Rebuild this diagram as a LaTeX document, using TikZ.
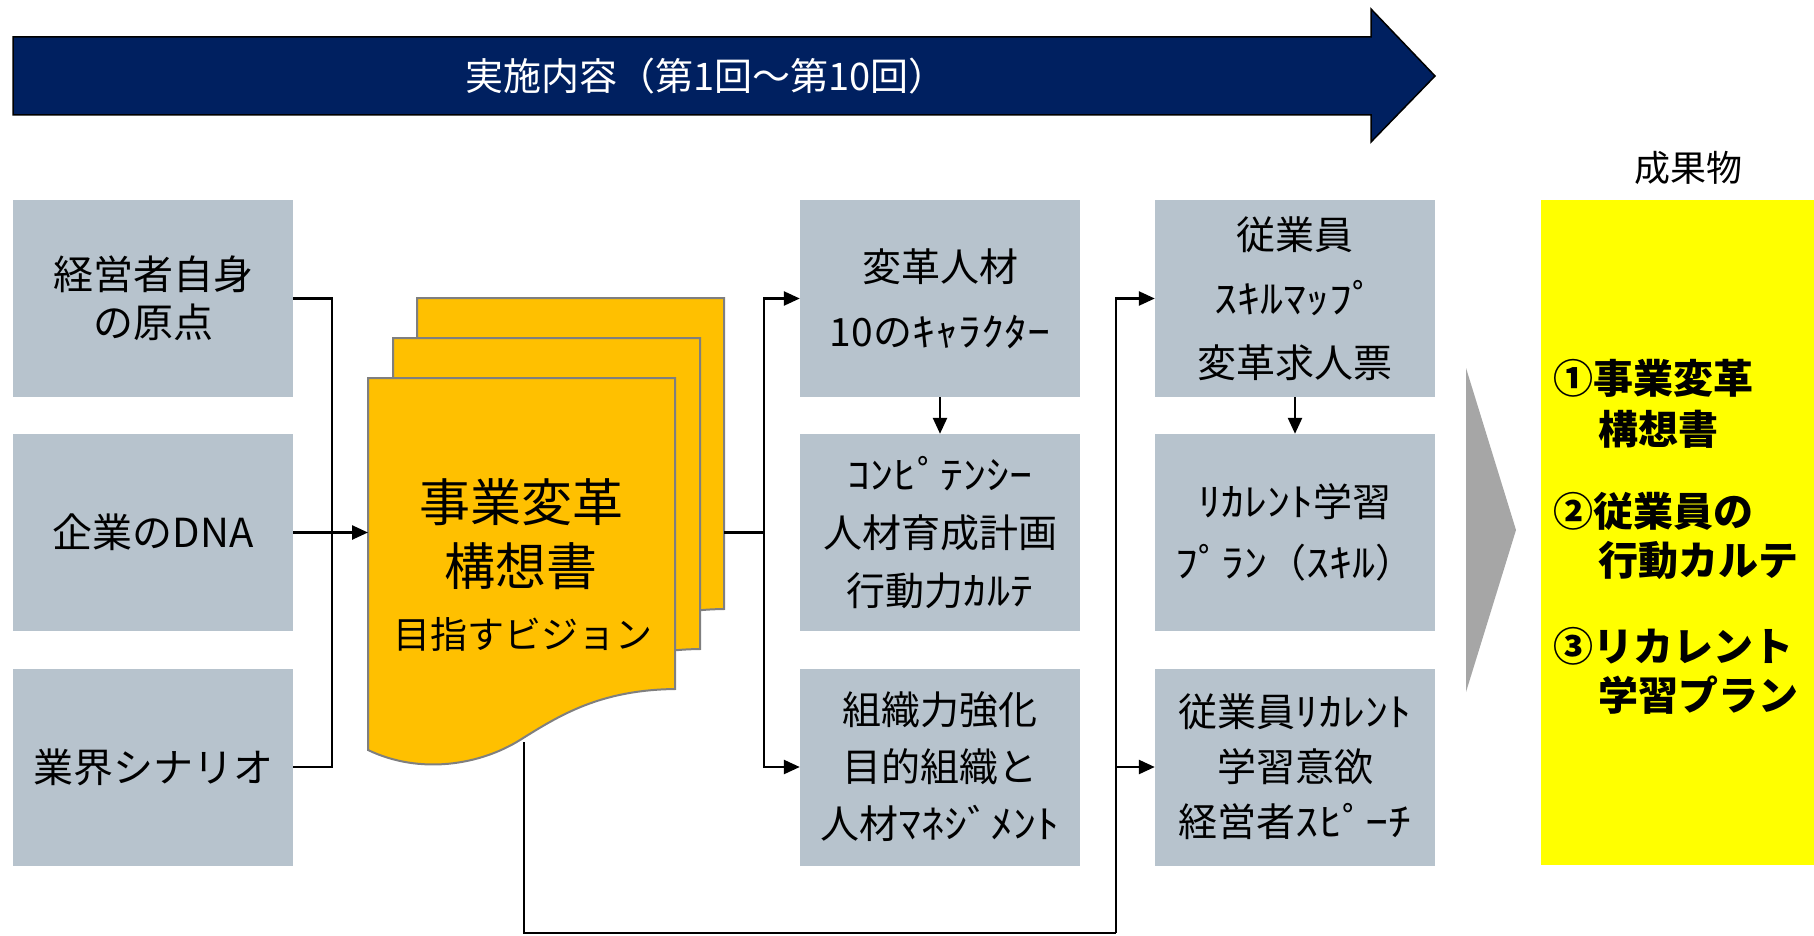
\documentclass[tikz,border=0pt]{standalone}
\usepackage{fontspec}
\usepackage{graphicx}
\newfontfamily\jp{Noto Sans CJK JP}
\usetikzlibrary{arrows.meta}
\definecolor{navy}{HTML}{002060}
\definecolor{boxgray}{HTML}{B7C3CD}
\definecolor{docfill}{HTML}{FFC000}
\definecolor{docline}{HTML}{7F7F7F}
\definecolor{chev}{HTML}{A6A6A6}
\definecolor{resy}{HTML}{FFFF00}
\newcommand{\hk}[1]{\scalebox{1.18}[1]{#1}}
\begin{document}
\begin{tikzpicture}[x=1pt,y=-1pt,
  box/.style={fill=boxgray, minimum width=280pt, minimum height=197pt, inner sep=0pt, align=center, text=black, font=\jp\fontsize{39}{58}\selectfont},
  conn/.style={line width=2.5pt, draw=black},
  arr/.style={conn, -{Triangle[length=16pt,width=14pt]}},
  rt/.style={anchor=west, inner sep=0pt, font=\jp\bfseries\fontsize{40}{44}\selectfont},
]
\useasboundingbox (0,0) rectangle (1814,936);

% header arrow
\filldraw[fill=navy, draw=black, line width=1.5pt] (13,37) -- (1371,37) -- (1371,9) -- (1435,76) -- (1371,142) -- (1371,115) -- (13,115) -- cycle;
\node[text=white, font=\jp\fontsize{38}{40}\selectfont] (head) at (706,76) {実施内容（第1回～第10回）};

% left boxes
\node[box, font=\jp\fontsize{40}{48}\selectfont] (l1) at (153,298.5) {経営者自身\\の原点};
\node[box, font=\jp\fontsize{40}{48}\selectfont] (l2) at (153,532.5) {企業のDNA};
\node[box, font=\jp\fontsize{40}{48}\selectfont] (l3) at (153,767) {業界シナリオ};

% document stack
\foreach \sx/\sy in {417/298, 393/338, 368/378}
  \filldraw[fill=docfill, draw=docline, line width=2pt, shift={(\sx,\sy)}]
    (0,0) -- (307,0) -- (307,311)
    .. controls (232,312) and (192,337) .. (152,362)
    .. controls (112,387) and (52,397) .. (0,372) -- cycle;
\node[font=\jp\fontsize{51}{64}\selectfont, align=center, inner sep=0pt] (doctitle) at (521,534) {事業変革\\構想書};
\node[font=\jp\fontsize{37}{40}\selectfont, inner sep=0pt] (docsub) at (523,634) {目指すビジョン};
\coordinate (docin) at (368,532.5);
\coordinate (docout) at (724,532.5);
\coordinate (docbot) at (524,742);

% middle column
\node[box, font=\jp\fontsize{39}{65}\selectfont] (c1) at (940,298.5) {変革人材\\10の\hk{ｷｬﾗｸﾀｰ}};
\node[box] (c2) at (940,532.5) {\hk{ｺﾝﾋﾟﾃﾝｼｰ}\\人材育成計画\\行動力\hk{ｶﾙﾃ}};
\node[box, font=\jp\fontsize{39}{57}\selectfont] (c3) at (940,767) {組織力強化\\目的組織と\\人材\hk{ﾏﾈｼﾞﾒﾝﾄ}};

% right column
\node[box, font=\jp\fontsize{39}{64}\selectfont] (d1) at (1295,298.5) {従業員\\\hk{ｽｷﾙﾏｯﾌﾟ}\\変革求人票};
\node[box, font=\jp\fontsize{39}{61}\selectfont] (d2) at (1295,532.5) {\hk{ﾘｶﾚﾝﾄ}学習\\\hk{ﾌﾟﾗﾝ}（\hk{ｽｷﾙ}）};
\node[box, font=\jp\fontsize{39}{55}\selectfont] (d3) at (1295,767) {従業員\hk{ﾘｶﾚﾝﾄ}\\学習意欲\\経営者\hk{ｽﾋﾟｰﾁ}};

% chevron and results
\fill[chev] (1466,368) -- (1516,530) -- (1466,692) -- cycle;
\node[fill=resy, minimum width=273pt, minimum height=665pt, inner sep=0pt] (res) at (1677.5,532.5) {};
\node[font=\jp\fontsize{36}{40}\selectfont] (restitle) at (1688,168) {成果物};
\node[rt] (r1a) at (1553,378) {①事業変革};
\node[rt] (r1b) at (1598,429) {構想書};
\node[rt] (r2a) at (1553,511) {②従業員の};
\node[rt] (r2b) at (1598,560) {行動カルテ};
\node[rt] (r3a) at (1553,646) {③リカレント};
\node[rt] (r3b) at (1598,695) {学習プラン};

% connectors
\coordinate (jl) at (332,532.5);
\draw[conn] (l1.east) -| (jl);
\draw[conn] (l3.east) -| (jl);
\draw[arr] (l2.east) -- (docin);
\coordinate (jc) at (764,532.5);
\draw[conn] (docout) -- (jc);
\draw[arr] (jc) |- (c1.west);
\draw[arr] (jc) |- (c3.west);
\draw[arr] (c1.south) -- (c2.north);
\draw[arr] (d1.south) -- (d2.north);
\coordinate (jb) at (524,933);
\coordinate (jd) at (1116,933);
\draw[conn] (docbot) -- (jb) -- (jd);
\draw[arr] (jd) |- (d1.west);
\draw[arr] (jd) |- (d3.west);
\end{tikzpicture}
\end{document}
